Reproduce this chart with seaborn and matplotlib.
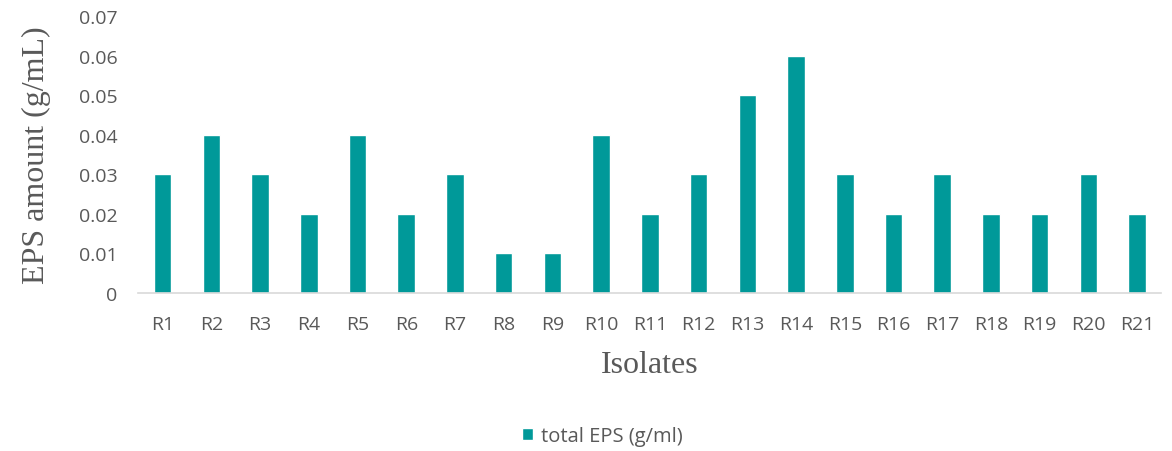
import pandas as pd
import matplotlib.pyplot as plt
import seaborn as sns

isolates = ['R1', 'R2', 'R3', 'R4', 'R5', 'R6', 'R7', 'R8', 'R9', 'R10', 'R11',
            'R12', 'R13', 'R14', 'R15', 'R16', 'R17', 'R18', 'R19', 'R20', 'R21']
total_eps = [0.03, 0.04, 0.03, 0.02, 0.04, 0.02, 0.03, 0.01, 0.01, 0.04, 0.02,
             0.03, 0.05, 0.06, 0.03, 0.02, 0.03, 0.02, 0.02, 0.03, 0.02]
y_ticks = [0, 0.01, 0.02, 0.03, 0.04, 0.05, 0.06, 0.07]
y_tick_labels = ['0', '0.01', '0.02', '0.03', '0.04', '0.05', '0.06', '0.07']

df = pd.DataFrame({'Isolate': isolates, 'EPS': total_eps})

sns.set_style('white')
plt.rcParams['font.family'] = ['Open Sans', 'DejaVu Sans']

text_gray = '#595959'
bar_color = '#009999'

fig = plt.figure(figsize=(11.72, 4.52), dpi=100)
ax = fig.add_axes([0.118, 0.350, 0.873, 0.612])

sns.barplot(data=df, x='Isolate', y='EPS', color=bar_color, width=0.36,
            saturation=1, ax=ax, label='total EPS (g/ml)')

ax.set_ylim(0, 0.07)
ax.set_yticks(y_ticks)
ax.set_yticklabels(y_tick_labels)
ax.set_xlim(-0.5, len(isolates) - 0.5)
ax.tick_params(axis='both', length=0, colors=text_gray, labelsize=14)
ax.tick_params(axis='x', pad=16)
ax.tick_params(axis='y', pad=15)

for s in ['top', 'right', 'left']:
    ax.spines[s].set_visible(False)
ax.spines['bottom'].set_color('#d9d9d9')
ax.spines['bottom'].set_linewidth(1.2)

ax.set_ylabel('EPS amount (g/mL)', family=['Liberation Serif', 'DejaVu Serif'],
              fontsize=23, color=text_gray, labelpad=20)
ax.set_xlabel('Isolates', family=['Liberation Serif', 'DejaVu Serif'],
              fontsize=23, color=text_gray, labelpad=12)

if ax.get_legend():
    ax.get_legend().remove()
handles, labels = ax.get_legend_handles_labels()
fig.legend(handles, labels, loc='lower center', bbox_to_anchor=(0.514, -0.03),
           frameon=False, fontsize=14.5, labelcolor=text_gray,
           handlelength=0.55, handleheight=0.55, handletextpad=0.4)

fig.savefig('out.png', dpi=100)
